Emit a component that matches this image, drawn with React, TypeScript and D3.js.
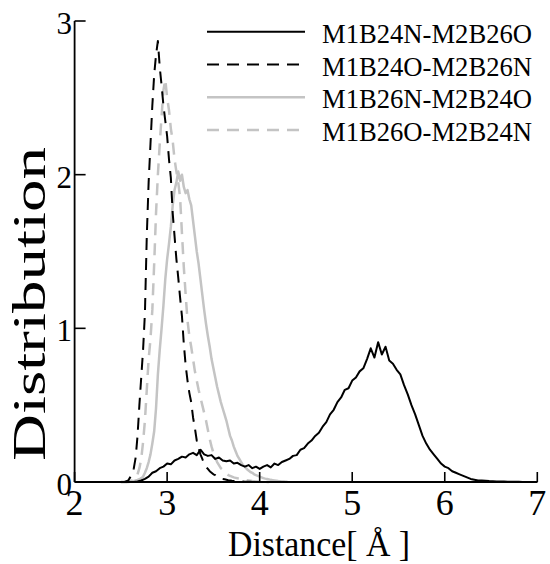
import * as d3 from "d3";

const W = 550;
const H = 564;
const MARGIN = { top: 21, right: 12.7, bottom: 82, left: 74.6 };
const FONT = "Liberation Serif";

const X_TICKS = [2, 3, 4, 5, 6, 7];
const Y_TICKS = [0, 1, 2, 3];

const NAMES = ["M1B24N-M2B26O", "M1B24O-M2B26N", "M1B26N-M2B24O", "M1B26O-M2B24N"];

// M1B24N-M2B26O, sampled every 0.04 from 2.60
const S1_START = 2.6;
const S1_STEP = 0.04;
const S1 = [
  0, 0, 0.003, 0.01, 0.02, 0.035, 0.06, 0.07, 0.09, 0.1,
  0.12, 0.115, 0.14, 0.15, 0.165, 0.16, 0.18, 0.19, 0.175, 0.21,
  0.18, 0.17, 0.175, 0.15, 0.16, 0.14, 0.135, 0.14, 0.12, 0.125,
  0.11, 0.1, 0.11, 0.09, 0.1, 0.085, 0.1, 0.11, 0.095, 0.12,
  0.11, 0.13, 0.14, 0.15, 0.17, 0.175, 0.21, 0.22, 0.25, 0.27,
  0.3, 0.32, 0.36, 0.39, 0.44, 0.47, 0.52, 0.55, 0.6, 0.61,
  0.66, 0.68, 0.72, 0.74, 0.8, 0.87, 0.81, 0.91, 0.83, 0.88,
  0.79, 0.77, 0.73, 0.7, 0.63, 0.57, 0.5, 0.44, 0.37, 0.3,
  0.25, 0.21, 0.18, 0.15, 0.12, 0.1, 0.09, 0.07, 0.06, 0.05,
  0.04, 0.03, 0.02, 0.015, 0.01, 0.01, 0.008, 0.006, 0.005, 0.004,
  0.003, 0.003, 0.002, 0.002, 0.001, 0.001, 0, 0, 0, 0,
  0,
];

// M1B24O-M2B26N, every 0.02 from 2.50
const S2_START = 2.5;
const S2_STEP = 0.02;
const S2 = [
  0, 0, 0, 0.005, 0.01, 0.03, 0.05, 0.09, 0.16, 0.3,
  0.5, 0.68, 0.86, 1.1, 1.6, 1.95, 2.2, 2.45, 2.65, 2.78,
  2.87, 2.7, 2.58, 2.45, 2.35, 2.25, 2.1, 1.98, 1.75, 1.6,
  1.45, 1.33, 1.2, 1.08, 0.9, 0.76, 0.66, 0.58, 0.52, 0.42,
  0.35, 0.27, 0.22, 0.18, 0.15, 0.12, 0.1, 0.085, 0.07, 0.06,
  0.05, 0.045, 0.035, 0.03, 0.025, 0.02, 0.018, 0.015, 0.012, 0.01,
  0.008, 0.007, 0.006, 0.005, 0.004, 0.003, 0.003, 0.002, 0.002, 0.001,
  0.001, 0, 0, 0, 0, 0,
];

// M1B26N-M2B24O, every 0.02 from 2.50
const S3_START = 2.5;
const S3_STEP = 0.02;
const S3 = [
  0, 0, 0, 0, 0, 0.002, 0.004, 0.006, 0.01, 0.013,
  0.018, 0.025, 0.035, 0.06, 0.09, 0.13, 0.18, 0.25, 0.33, 0.48,
  0.7, 0.86, 1.0, 1.15, 1.32, 1.45, 1.55, 1.66, 1.8, 1.9,
  1.95, 2.02, 1.96, 2.0, 1.92, 1.88, 1.9, 1.84, 1.8, 1.7,
  1.6, 1.5, 1.42, 1.32, 1.22, 1.12, 1.03, 0.95, 0.88, 0.8,
  0.74, 0.68, 0.62, 0.57, 0.52, 0.48, 0.44, 0.4, 0.35, 0.3,
  0.27, 0.23, 0.2, 0.17, 0.15, 0.13, 0.11, 0.1, 0.085, 0.075,
  0.065, 0.06, 0.05, 0.045, 0.04, 0.035, 0.03, 0.025, 0.022, 0.02,
  0.017, 0.014, 0.012, 0.01, 0.008, 0.006, 0.005, 0.004, 0.003, 0.002,
  0.001,
];

// M1B26O-M2B24N, every 0.02 from 2.50
const S4_START = 2.5;
const S4_STEP = 0.02;
const S4 = [
  0, 0, 0, 0, 0.003, 0.006, 0.01, 0.015, 0.025, 0.05,
  0.09, 0.15, 0.26, 0.4, 0.6, 0.8, 0.93, 1.12, 1.42, 1.75,
  2.0, 2.2, 2.38, 2.55, 2.62, 2.5, 2.42, 2.3, 2.22, 2.1,
  2.02, 1.95, 1.85, 1.62, 1.4, 1.22, 1.05, 0.95, 0.88, 0.8,
  0.72, 0.66, 0.6, 0.55, 0.5, 0.45, 0.4, 0.34, 0.28, 0.23,
  0.19, 0.16, 0.13, 0.11, 0.09, 0.08, 0.065, 0.055, 0.045, 0.04,
  0.035, 0.03, 0.027, 0.024, 0.022, 0.02, 0.018, 0.015, 0.012, 0.01,
  0.008, 0.006, 0.005, 0.004, 0.003, 0.002, 0.001, 0.001, 0, 0,
  0,
];

const toPoints = (start: number, step: number, vals: number[]) =>
  vals.map((v, i) => [start + i * step, v] as [number, number]);

const SERIES = [
  { name: NAMES[0], pts: toPoints(S1_START, S1_STEP, S1), color: "#000", width: 2, dash: "" },
  { name: NAMES[1], pts: toPoints(S2_START, S2_STEP, S2), color: "#000", width: 2, dash: "12 8" },
  { name: NAMES[2], pts: toPoints(S3_START, S3_STEP, S3), color: "#c4c4c4", width: 2.5, dash: "" },
  { name: NAMES[3], pts: toPoints(S4_START, S4_STEP, S4), color: "#c4c4c4", width: 2.5, dash: "12 8" },
];

const txt = { fontFamily: FONT };

export default function App() {
  const x = d3.scaleLinear().domain([2, 7]).range([MARGIN.left, W - MARGIN.right]);
  const y = d3.scaleLinear().domain([0, 3]).range([H - MARGIN.bottom, MARGIN.top]);
  const line = d3
    .line<[number, number]>()
    .x((d) => x(d[0]))
    .y((d) => y(d[1]));

  const drawOrder = [2, 3, 0, 1];

  return (
    <svg
      width={W}
      height={H}
      style={{ position: "absolute", left: 0, top: 0, background: "#fff" }}
    >
      {drawOrder.map((i) => {
        const s = SERIES[i];
        return (
          <path
            key={s.name}
            d={line(s.pts) || ""}
            fill="none"
            stroke={s.color}
            strokeWidth={s.width}
            strokeDasharray={s.dash || undefined}
            strokeLinejoin="round"
          />
        );
      })}

      {/* axes */}
      <line x1={x(2)} x2={x(7)} y1={y(0)} y2={y(0)} stroke="#000" strokeWidth={1.8} />
      <line x1={x(2)} x2={x(2)} y1={y(0)} y2={y(3)} stroke="#000" strokeWidth={1.8} />
      {X_TICKS.map((t) => (
        <g key={"x" + t}>
          <line x1={x(t)} x2={x(t)} y1={y(0)} y2={y(0) - 10} stroke="#000" strokeWidth={1.6} />
          <text x={x(t)} y={515} textAnchor="middle" fontSize={36} style={txt}>
            {t}
          </text>
        </g>
      ))}
      {Y_TICKS.map((t) => (
        <g key={"y" + t}>
          <line x1={x(2)} x2={x(2) + 11} y1={y(t)} y2={y(t)} stroke="#000" strokeWidth={1.6} />
          <text x={72} y={y(t) + 6} textAnchor="end" dominantBaseline="middle" fontSize={31} style={txt}>
            {t}
          </text>
        </g>
      ))}

      <text
        x={319}
        y={556}
        textAnchor="middle"
        fontSize={36}
        textLength={182}
        lengthAdjust="spacingAndGlyphs"
        style={txt}
      >
        Distance[ Å ]
      </text>
      <text
        transform={`translate(45,304) rotate(-90)`}
        textAnchor="middle"
        fontSize={46}
        textLength={314}
        lengthAdjust="spacingAndGlyphs"
        style={txt}
      >
        Distribution
      </text>

      {/* legend */}
      {SERIES.map((s, i) => (
        <g key={"lg" + i} transform={`translate(0,${31.7 + i * 32.8})`}>
          <line
            x1={207}
            x2={305}
            y1={0}
            y2={0}
            stroke={s.color}
            strokeWidth={s.width}
            strokeDasharray={s.dash || undefined}
          />
          <text x={322} y={11} fontSize={28} textLength={210} lengthAdjust="spacingAndGlyphs" style={txt}>
            {s.name}
          </text>
        </g>
      ))}
    </svg>
  );
}
